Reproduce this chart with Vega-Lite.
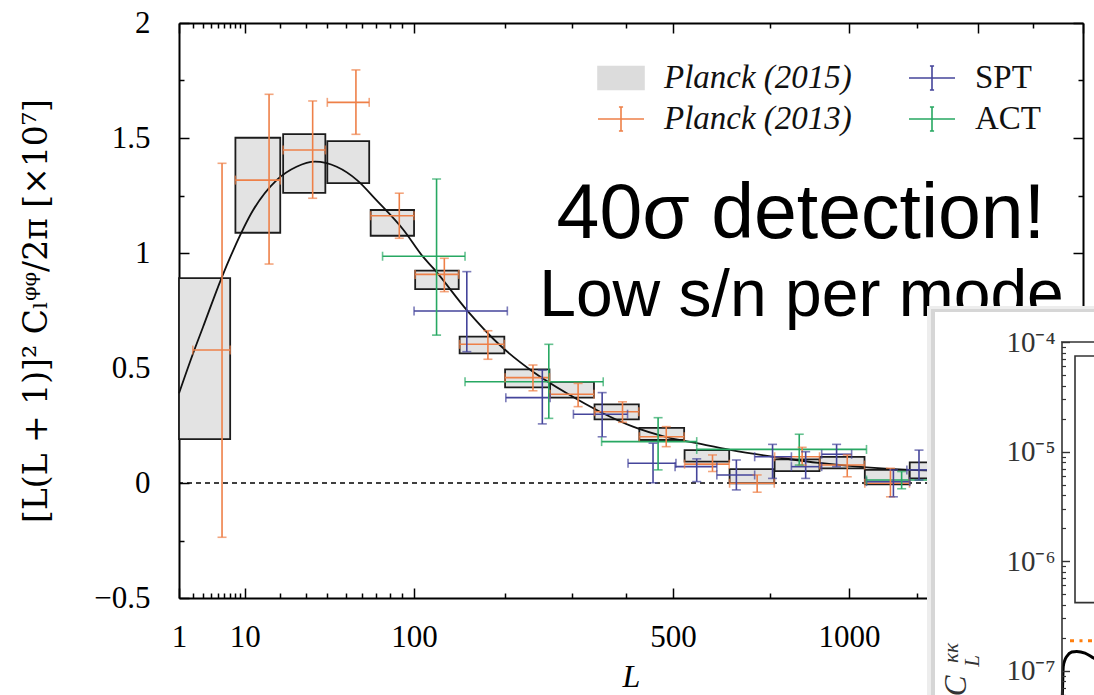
{
  "$schema": "https://vega.github.io/schema/vega-lite/v6.json",
  "width": 904,
  "height": 575,
  "autosize": {"type": "none"},
  "padding": {"left": 179, "top": 23, "right": 11, "bottom": 97},
  "background": "#ffffff",
  "config": {
    "view": {"stroke": null},
    "axis": {
      "grid": false, "domainColor": "#000000", "domainWidth": 2,
      "tickColor": "#000000", "tickWidth": 1.5,
      "labelColor": "#000000", "labelFont": "Liberation Serif", "labelFontSize": 31,
      "labelFlush": false, "labelOverlap": false,
      "titleColor": "#000000", "titleFontWeight": "normal"
    }
  },
  "datasets": {
    "boxes": [
      {"lo": 1, "hi": 7, "ylo": 0.191, "yhi": 0.891},
      {"lo": 8, "hi": 20, "ylo": 1.088, "yhi": 1.501},
      {"lo": 21, "hi": 39, "ylo": 1.261, "yhi": 1.517},
      {"lo": 40, "hi": 65, "ylo": 1.304, "yhi": 1.486},
      {"lo": 66, "hi": 100, "ylo": 1.075, "yhi": 1.187},
      {"lo": 101, "hi": 144, "ylo": 0.843, "yhi": 0.923},
      {"lo": 145, "hi": 199, "ylo": 0.564, "yhi": 0.636},
      {"lo": 200, "hi": 264, "ylo": 0.416, "yhi": 0.494},
      {"lo": 265, "hi": 339, "ylo": 0.371, "yhi": 0.44},
      {"lo": 340, "hi": 426, "ylo": 0.277, "yhi": 0.342},
      {"lo": 427, "hi": 526, "ylo": 0.187, "yhi": 0.24},
      {"lo": 527, "hi": 638, "ylo": 0.093, "yhi": 0.143},
      {"lo": 639, "hi": 763, "ylo": -0.001, "yhi": 0.06},
      {"lo": 764, "hi": 902, "ylo": 0.052, "yhi": 0.103},
      {"lo": 903, "hi": 1054, "ylo": 0.064, "yhi": 0.114},
      {"lo": 1055, "hi": 1220, "ylo": -0.006, "yhi": 0.057},
      {"lo": 1221, "hi": 1400, "ylo": 0.02, "yhi": 0.09}
    ],
    "bars": [
      {"series": "Planck (2013)", "L": 5.6, "lo": 2, "hi": 7, "y": 0.578, "ylo": -0.236, "yhi": 1.39},
      {"series": "Planck (2013)", "L": 16.4, "lo": 8, "hi": 20, "y": 1.317, "ylo": 0.952, "yhi": 1.69},
      {"series": "Planck (2013)", "L": 32.9, "lo": 21, "hi": 39, "y": 1.448, "ylo": 1.238, "yhi": 1.661},
      {"series": "Planck (2013)", "L": 56.3, "lo": 40, "hi": 65, "y": 1.655, "ylo": 1.516, "yhi": 1.796},
      {"series": "Planck (2013)", "L": 87.5, "lo": 66, "hi": 100, "y": 1.162, "ylo": 1.064, "yhi": 1.26},
      {"series": "Planck (2013)", "L": 128.8, "lo": 101, "hi": 144, "y": 0.907, "ylo": 0.832, "yhi": 0.977},
      {"series": "Planck (2013)", "L": 178, "lo": 145, "hi": 199, "y": 0.603, "ylo": 0.538, "yhi": 0.662},
      {"series": "Planck (2013)", "L": 239, "lo": 200, "hi": 264, "y": 0.458, "ylo": 0.401, "yhi": 0.513},
      {"series": "Planck (2013)", "L": 311, "lo": 265, "hi": 339, "y": 0.386, "ylo": 0.332, "yhi": 0.433},
      {"series": "Planck (2013)", "L": 393, "lo": 340, "hi": 426, "y": 0.31, "ylo": 0.264, "yhi": 0.353},
      {"series": "Planck (2013)", "L": 485, "lo": 427, "hi": 526, "y": 0.201, "ylo": 0.158, "yhi": 0.245},
      {"series": "Planck (2013)", "L": 595, "lo": 527, "hi": 638, "y": 0.082, "ylo": 0.05, "yhi": 0.122},
      {"series": "Planck (2013)", "L": 714, "lo": 639, "hi": 763, "y": -0.001, "ylo": -0.04, "yhi": 0.035},
      {"series": "Planck (2013)", "L": 847, "lo": 764, "hi": 902, "y": 0.114, "ylo": 0.078, "yhi": 0.155},
      {"series": "Planck (2013)", "L": 994, "lo": 903, "hi": 1054, "y": 0.078, "ylo": 0.027, "yhi": 0.122},
      {"series": "Planck (2013)", "L": 1148, "lo": 1055, "hi": 1220, "y": -0.001, "ylo": -0.06, "yhi": 0.064},
      {"series": "SPT", "L": 153, "lo": 100, "hi": 203, "y": 0.748, "ylo": 0.571, "yhi": 0.919},
      {"series": "SPT", "L": 253, "lo": 201, "hi": 265, "y": 0.371, "ylo": 0.257, "yhi": 0.491},
      {"series": "SPT", "L": 354, "lo": 303, "hi": 403, "y": 0.299, "ylo": 0.201, "yhi": 0.393},
      {"series": "SPT", "L": 456, "lo": 404, "hi": 507, "y": 0.086, "ylo": 0.001, "yhi": 0.173},
      {"series": "SPT", "L": 556, "lo": 505, "hi": 606, "y": 0.071, "ylo": 0.006, "yhi": 0.105},
      {"series": "SPT", "L": 657, "lo": 606, "hi": 707, "y": 0.035, "ylo": -0.03, "yhi": 0.1},
      {"series": "SPT", "L": 758, "lo": 707, "hi": 814, "y": 0.114, "ylo": 0.02, "yhi": 0.168},
      {"series": "SPT", "L": 858, "lo": 814, "hi": 909, "y": 0.071, "ylo": 0.02, "yhi": 0.136},
      {"series": "SPT", "L": 958, "lo": 909, "hi": 1009, "y": 0.125, "ylo": 0.071, "yhi": 0.168},
      {"series": "SPT", "L": 1159, "lo": 1061, "hi": 1221, "y": 0.006, "ylo": -0.06, "yhi": 0.057},
      {"series": "SPT", "L": 1257, "lo": 1210, "hi": 1320, "y": 0.057, "ylo": 0.013, "yhi": 0.143},
      {"series": "ACT", "L": 121, "lo": 74.5, "hi": 151, "y": 0.986, "ylo": 0.643, "yhi": 1.322},
      {"series": "ACT", "L": 263, "lo": 151, "hi": 356, "y": 0.44, "ylo": 0.281, "yhi": 0.603},
      {"series": "ACT", "L": 467, "lo": 353, "hi": 556, "y": 0.18, "ylo": 0.057, "yhi": 0.284},
      {"series": "ACT", "L": 838, "lo": 556, "hi": 1061, "y": 0.146, "ylo": 0.078, "yhi": 0.212},
      {"series": "ACT", "L": 1190, "lo": 1061, "hi": 1320, "y": 0.013, "ylo": -0.025, "yhi": 0.05}
    ],
    "theory": [
      {"L": 1, "v": 0.39}, {"L": 2, "v": 0.56}, {"L": 3, "v": 0.676}, {"L": 5.5, "v": 0.89},
      {"L": 7.6, "v": 1.013}, {"L": 12, "v": 1.187}, {"L": 18.8, "v": 1.317}, {"L": 26, "v": 1.375},
      {"L": 34, "v": 1.397}, {"L": 45, "v": 1.375}, {"L": 57, "v": 1.317}, {"L": 70, "v": 1.23},
      {"L": 91, "v": 1.1}, {"L": 108, "v": 0.984}, {"L": 118, "v": 0.933}, {"L": 153, "v": 0.752},
      {"L": 193, "v": 0.6}, {"L": 239, "v": 0.484}, {"L": 292, "v": 0.39}, {"L": 350, "v": 0.31},
      {"L": 414, "v": 0.245}, {"L": 485, "v": 0.2}, {"L": 556, "v": 0.173}, {"L": 644, "v": 0.143},
      {"L": 770, "v": 0.112}, {"L": 909, "v": 0.086}, {"L": 1061, "v": 0.068}, {"L": 1221, "v": 0.057},
      {"L": 1320, "v": 0.054}, {"L": 1600, "v": 0.045}, {"L": 2000, "v": 0.035}
    ],
    "kappa": [
      {"L": 4.8, "c": 5.4e-8}, {"L": 6, "c": 6.7e-8}, {"L": 9, "c": 1.09e-7}, {"L": 16, "c": 1.26e-7},
      {"L": 23, "c": 1.35e-7}, {"L": 43, "c": 1.48e-7}, {"L": 63, "c": 1.5e-7}, {"L": 96, "c": 1.45e-7},
      {"L": 132, "c": 1.3e-7}, {"L": 200, "c": 1.12e-7}, {"L": 300, "c": 9.5e-8}
    ]
  },
  "layer": [
    {
      "layer": [
        {
          "data": {"values": [{}]},
          "mark": {"type": "rule", "color": "#000000", "strokeWidth": 1.5, "strokeDash": [5, 4]},
          "encoding": {
            "y": {"datum": 0, "type": "quantitative", "scale": {"domain": [-0.5, 2], "nice": false, "zero": false}, "axis": null}
          }
        },
        {
          "data": {"name": "boxes"},
          "mark": {"type": "rect", "fill": "#e3e3e3", "stroke": "#1c1c1c", "strokeWidth": 1.8},
          "encoding": {
            "x": {"field": "lo", "type": "quantitative",
              "scale": {"type": "pow", "exponent": 0.41, "domain": [1, 2000], "nice": false, "zero": false},
              "axis": {"orient": "bottom", "values": [1, 10, 100, 500, 1000], "format": "d",
                "tickSize": -10, "labelPadding": 34, "title": "L", "titleFont": "Liberation Serif",
                "titleFontStyle": "italic", "titleFontSize": 32, "titlePadding": 9}},
            "x2": {"field": "hi"},
            "y": {"field": "ylo", "type": "quantitative",
              "scale": {"domain": [-0.5, 2], "nice": false, "zero": false},
              "axis": {"orient": "left", "values": [-0.5, 0, 0.5, 1, 1.5, 2], "format": "~g",
                "tickSize": -10, "labelPadding": 39,
                "title": "[L(L + 1)]² Cₗᵠᵠ/2π  [×10⁷]", "titleFont": "DejaVu Serif",
                "titleFontSize": 33, "titlePadding": 40}},
            "y2": {"field": "yhi"}
          }
        },
        {
          "data": {"name": "theory"},
          "mark": {"type": "line", "color": "#111111", "strokeWidth": 1.8, "interpolate": "monotone"},
          "encoding": {
            "x": {"field": "L", "type": "quantitative",
              "scale": {"type": "pow", "exponent": 0.41, "domain": [1, 2000], "nice": false, "zero": false},
              "axis": {"orient": "bottom", "values": [2, 3, 4, 5, 6, 7, 8, 9, 20, 30, 40, 50, 60, 70, 80, 90, 200, 300, 400, 750, 1250, 1750],
                "tickSize": -5, "labels": false, "domain": false, "title": null}},
            "y": {"field": "v", "type": "quantitative",
              "scale": {"domain": [-0.5, 2], "nice": false, "zero": false},
              "axis": {"orient": "left", "values": [-0.25, 0.25, 0.75, 1.25, 1.75],
                "tickSize": -5, "labels": false, "domain": false, "title": null}}
          }
        },
        {
          "data": {"name": "bars"},
          "mark": {"type": "rule", "strokeWidth": 1.6},
          "encoding": {
            "x": {"field": "lo", "type": "quantitative",
              "scale": {"type": "pow", "exponent": 0.41, "domain": [1, 2000], "nice": false, "zero": false},
              "axis": {"orient": "top", "values": [1, 10, 100, 500, 1000, 1500, 2000], "tickSize": -10, "labels": false, "title": null}},
            "x2": {"field": "hi"},
            "y": {"field": "y", "type": "quantitative",
              "scale": {"domain": [-0.5, 2], "nice": false, "zero": false},
              "axis": {"orient": "right", "values": [-0.5, 0, 0.5, 1, 1.5, 2], "tickSize": -10, "labels": false, "title": null}},
            "color": {
              "field": "series", "type": "nominal",
              "scale": {"domain": ["Planck (2015)", "Planck (2013)", "SPT", "ACT"],
                        "range": ["#dcdcdc", "#ee8048", "#45459b", "#27a862"]},
              "legend": {
                "title": null, "orient": "none", "legendX": 418, "legendY": 31,
                "columns": 2, "columnPadding": 53, "rowPadding": -6, "padding": 0,
                "symbolSize": 2116, "symbolStrokeWidth": 1.6,
                "labelFont": "Liberation Serif", "labelFontSize": 33, "labelColor": "#111111",
                "labelOffset": 19, "labelLimit": 0,
                "encode": {
                  "symbols": {"update": {
                    "shape": {"signal": "datum.value === 'Planck (2015)' ? 'M-1,-0.5H1V0.5H-1Z' : 'M-1,0H1M0,-0.52V0.52M-0.09,-0.52H0.09M-0.09,0.52H0.09'"},
                    "strokeWidth": {"value": 1.6},
                    "opacity": {"value": 1}
                  }},
                  "labels": {"update": {
                    "fontStyle": {"signal": "indexof(datum.label, 'Planck') === 0 ? 'italic' : 'normal'"}
                  }}
                }
              }
            }
          }
        },
        {
          "data": {"name": "bars"},
          "mark": {"type": "rule", "strokeWidth": 1.6},
          "encoding": {
            "x": {"field": "L", "type": "quantitative",
              "scale": {"type": "pow", "exponent": 0.41, "domain": [1, 2000], "nice": false, "zero": false},
              "axis": {"orient": "top", "values": [2, 3, 4, 5, 6, 7, 8, 9, 20, 30, 40, 50, 60, 70, 80, 90, 200, 300, 400, 750, 1250, 1750],
                "tickSize": -5, "labels": false, "domain": false, "title": null}},
            "y": {"field": "ylo", "type": "quantitative",
              "scale": {"domain": [-0.5, 2], "nice": false, "zero": false},
              "axis": {"orient": "right", "values": [-0.25, 0.25, 0.75, 1.25, 1.75],
                "tickSize": -5, "labels": false, "domain": false, "title": null}},
            "y2": {"field": "yhi"},
            "color": {"field": "series", "type": "nominal", "legend": null}
          }
        },
        {
          "data": {"name": "bars"},
          "mark": {"type": "tick", "orient": "horizontal", "size": 9, "thickness": 1.6},
          "encoding": {
            "x": {"field": "L", "type": "quantitative", "scale": {"type": "pow", "exponent": 0.41, "domain": [1, 2000], "nice": false, "zero": false}, "axis": null},
            "y": {"field": "ylo", "type": "quantitative", "scale": {"domain": [-0.5, 2], "nice": false, "zero": false}, "axis": null},
            "color": {"field": "series", "type": "nominal", "legend": null}
          }
        },
        {
          "data": {"name": "bars"},
          "mark": {"type": "tick", "orient": "horizontal", "size": 9, "thickness": 1.6},
          "encoding": {
            "x": {"field": "L", "type": "quantitative", "scale": {"type": "pow", "exponent": 0.41, "domain": [1, 2000], "nice": false, "zero": false}, "axis": null},
            "y": {"field": "yhi", "type": "quantitative", "scale": {"domain": [-0.5, 2], "nice": false, "zero": false}, "axis": null},
            "color": {"field": "series", "type": "nominal", "legend": null}
          }
        },
        {
          "data": {"name": "bars"},
          "mark": {"type": "tick", "orient": "vertical", "size": 9, "thickness": 1.6},
          "encoding": {
            "x": {"field": "lo", "type": "quantitative", "scale": {"type": "pow", "exponent": 0.41, "domain": [1, 2000], "nice": false, "zero": false}, "axis": null},
            "y": {"field": "y", "type": "quantitative", "scale": {"domain": [-0.5, 2], "nice": false, "zero": false}, "axis": null},
            "color": {"field": "series", "type": "nominal", "legend": null}
          }
        },
        {
          "data": {"name": "bars"},
          "mark": {"type": "tick", "orient": "vertical", "size": 9, "thickness": 1.6},
          "encoding": {
            "x": {"field": "hi", "type": "quantitative", "scale": {"type": "pow", "exponent": 0.41, "domain": [1, 2000], "nice": false, "zero": false}, "axis": null},
            "y": {"field": "y", "type": "quantitative", "scale": {"domain": [-0.5, 2], "nice": false, "zero": false}, "axis": null},
            "color": {"field": "series", "type": "nominal", "legend": null}
          }
        },
        {
          "data": {"values": [{}]},
          "mark": {"type": "text", "font": "Liberation Sans", "fontSize": 77, "align": "center", "baseline": "alphabetic", "color": "#000000"},
          "encoding": {
            "x": {"datum": 843, "type": "quantitative", "scale": {"type": "pow", "exponent": 0.41, "domain": [1, 2000], "nice": false, "zero": false}, "axis": null},
            "y": {"datum": 1.067, "type": "quantitative", "scale": {"domain": [-0.5, 2], "nice": false, "zero": false}, "axis": null},
            "text": {"value": "40σ detection!"}
          }
        },
        {
          "data": {"values": [{}]},
          "mark": {"type": "text", "font": "Liberation Sans", "fontSize": 66, "align": "center", "baseline": "alphabetic", "color": "#000000"},
          "encoding": {
            "x": {"datum": 845, "type": "quantitative", "scale": {"type": "pow", "exponent": 0.41, "domain": [1, 2000], "nice": false, "zero": false}, "axis": null},
            "y": {"datum": 0.726, "type": "quantitative", "scale": {"domain": [-0.5, 2], "nice": false, "zero": false}, "axis": null},
            "text": {"value": "Low s/n per mode"}
          }
        }
      ],
      "resolve": {"axis": {"x": "independent", "y": "independent"}}
    },
    {
      "layer": [
        {
          "data": {"values": [{}]},
          "mark": {"type": "rect", "fill": "#ededed"},
          "encoding": {
            "x": {"datum": -536, "type": "quantitative", "scale": {"domain": [0, 2000], "range": [882, 1382], "nice": false, "zero": false}, "axis": null},
            "x2": {"datum": 2000},
            "y": {"datum": 2.13e-4, "type": "quantitative", "scale": {"type": "log", "domain": [1e-8, 1e-4], "range": [757.3, 319], "nice": false}, "axis": null},
            "y2": {"datum": 1e-9}
          }
        },
        {
          "data": {"values": [{}]},
          "mark": {"type": "rect", "fill": "#d6d6d6"},
          "encoding": {
            "x": {"datum": -520, "type": "quantitative", "scale": {"domain": [0, 2000], "range": [882, 1382], "nice": false, "zero": false}, "axis": null},
            "x2": {"datum": 2000},
            "y": {"datum": 2.0e-4, "type": "quantitative", "scale": {"type": "log", "domain": [1e-8, 1e-4], "range": [757.3, 319], "nice": false}, "axis": null},
            "y2": {"datum": 1e-9}
          }
        },
        {
          "data": {"values": [{}]},
          "mark": {"type": "rect", "fill": "#ffffff"},
          "encoding": {
            "x": {"datum": -504, "type": "quantitative", "scale": {"domain": [0, 2000], "range": [882, 1382], "nice": false, "zero": false}, "axis": null},
            "x2": {"datum": 2000},
            "y": {"datum": 1.88e-4, "type": "quantitative", "scale": {"type": "log", "domain": [1e-8, 1e-4], "range": [757.3, 319], "nice": false}, "axis": null},
            "y2": {"datum": 1e-9}
          }
        },
        {
          "data": {"values": [{}]},
          "mark": {"type": "rule", "color": "#333333", "strokeWidth": 1.5},
          "encoding": {
            "x": {"datum": 0, "type": "quantitative", "scale": {"domain": [0, 2000], "range": [882, 1382], "nice": false, "zero": false}, "axis": null},
            "x2": {"datum": 2000},
            "y": {"datum": 1e-4, "type": "quantitative", "scale": {"type": "log", "domain": [1e-8, 1e-4], "range": [757.3, 319], "nice": false}, "axis": null}
          }
        },
        {
          "data": {"values": [{}]},
          "mark": {"type": "rect", "filled": false, "stroke": "#333333", "strokeWidth": 1.6},
          "encoding": {
            "x": {"datum": 56, "type": "quantitative", "scale": {"domain": [0, 2000], "range": [882, 1382], "nice": false, "zero": false}, "axis": null},
            "x2": {"datum": 2000},
            "y": {"datum": 7.45e-5, "type": "quantitative", "scale": {"type": "log", "domain": [1e-8, 1e-4], "range": [757.3, 319], "nice": false}, "axis": null},
            "y2": {"datum": 4.18e-7}
          }
        },
        {
          "data": {"values": [{}]},
          "mark": {"type": "rule", "color": "#ff7f0e", "strokeWidth": 3, "strokeDash": [4, 5.5, 3, 5.5]},
          "encoding": {
            "x": {"datum": 36, "type": "quantitative", "scale": {"domain": [0, 2000], "range": [882, 1382], "nice": false, "zero": false}, "axis": null},
            "x2": {"datum": 2000},
            "y": {"datum": 1.88e-7, "type": "quantitative", "scale": {"type": "log", "domain": [1e-8, 1e-4], "range": [757.3, 319], "nice": false},
              "axis": {"orient": "left", "offset": -882.5, "zindex": 1,
                "values": [2e-8, 3e-8, 4e-8, 5e-8, 6e-8, 7e-8, 8e-8, 9e-8, 2e-7, 3e-7, 4e-7, 5e-7, 6e-7, 7e-7, 8e-7, 9e-7, 2e-6, 3e-6, 4e-6, 5e-6, 6e-6, 7e-6, 8e-6, 9e-6, 2e-5, 3e-5, 4e-5, 5e-5, 6e-5, 7e-5, 8e-5, 9e-5],
                "tickSize": -4, "tickColor": "#333333", "tickWidth": 1.2, "labels": false, "domain": false, "title": null}}
          }
        },
        {
          "data": {"name": "kappa"},
          "mark": {"type": "line", "color": "#000000", "strokeWidth": 3, "interpolate": "monotone"},
          "encoding": {
            "x": {"field": "L", "type": "quantitative", "scale": {"domain": [0, 2000], "range": [882, 1382], "nice": false, "zero": false}, "axis": null},
            "y": {"field": "c", "type": "quantitative", "scale": {"type": "log", "domain": [1e-8, 1e-4], "range": [757.3, 319], "nice": false},
              "axis": {"orient": "left", "offset": -882.5, "zindex": 1, "values": [1e-7, 1e-6, 1e-5, 1e-4],
                "labelExpr": "datum.value < 5e-7 ? '10⁻⁷' : datum.value < 5e-6 ? '10⁻⁶' : datum.value < 5e-5 ? '10⁻⁵' : '10⁻⁴'",
                "tickSize": -8, "tickWidth": 1.4, "labelPadding": 14.5, "domainColor": "#333333", "domainWidth": 1.6,
                "tickColor": "#333333", "labelColor": "#333333", "labelFontSize": 29, "title": null}}
          }
        },
        {
          "data": {"values": [{}]},
          "mark": {"type": "text", "font": "Liberation Serif", "fontStyle": "italic", "fontSize": 31, "angle": 270, "align": "center", "baseline": "middle", "color": "#333333"},
          "encoding": {
            "x": {"datum": -416, "type": "quantitative", "scale": {"domain": [0, 2000], "range": [882, 1382], "nice": false, "zero": false}, "axis": null},
            "y": {"datum": 7.25e-8, "type": "quantitative", "scale": {"type": "log", "domain": [1e-8, 1e-4], "range": [757.3, 319], "nice": false}, "axis": null},
            "text": {"value": "C"}
          }
        },
        {
          "data": {"values": [{}]},
          "mark": {"type": "text", "font": "Liberation Serif", "fontStyle": "italic", "fontSize": 21, "angle": 270, "align": "center", "baseline": "middle", "color": "#333333"},
          "encoding": {
            "x": {"datum": -352, "type": "quantitative", "scale": {"domain": [0, 2000], "range": [882, 1382], "nice": false, "zero": false}, "axis": null},
            "y": {"datum": 1.23e-7, "type": "quantitative", "scale": {"type": "log", "domain": [1e-8, 1e-4], "range": [757.3, 319], "nice": false}, "axis": null},
            "text": {"value": "L"}
          }
        },
        {
          "data": {"values": [{}]},
          "mark": {"type": "text", "font": "Liberation Serif", "fontStyle": "italic", "fontSize": 21, "angle": 270, "align": "center", "baseline": "middle", "color": "#333333"},
          "encoding": {
            "x": {"datum": -436, "type": "quantitative", "scale": {"domain": [0, 2000], "range": [882, 1382], "nice": false, "zero": false}, "axis": null},
            "y": {"datum": 1.45e-7, "type": "quantitative", "scale": {"type": "log", "domain": [1e-8, 1e-4], "range": [757.3, 319], "nice": false}, "axis": null},
            "text": {"value": "κκ"}
          }
        }
      ],
      "resolve": {"axis": {"x": "independent", "y": "independent"}}
    }
  ],
  "resolve": {
    "scale": {"x": "independent", "y": "independent"},
    "axis": {"x": "independent", "y": "independent"}
  }
}
